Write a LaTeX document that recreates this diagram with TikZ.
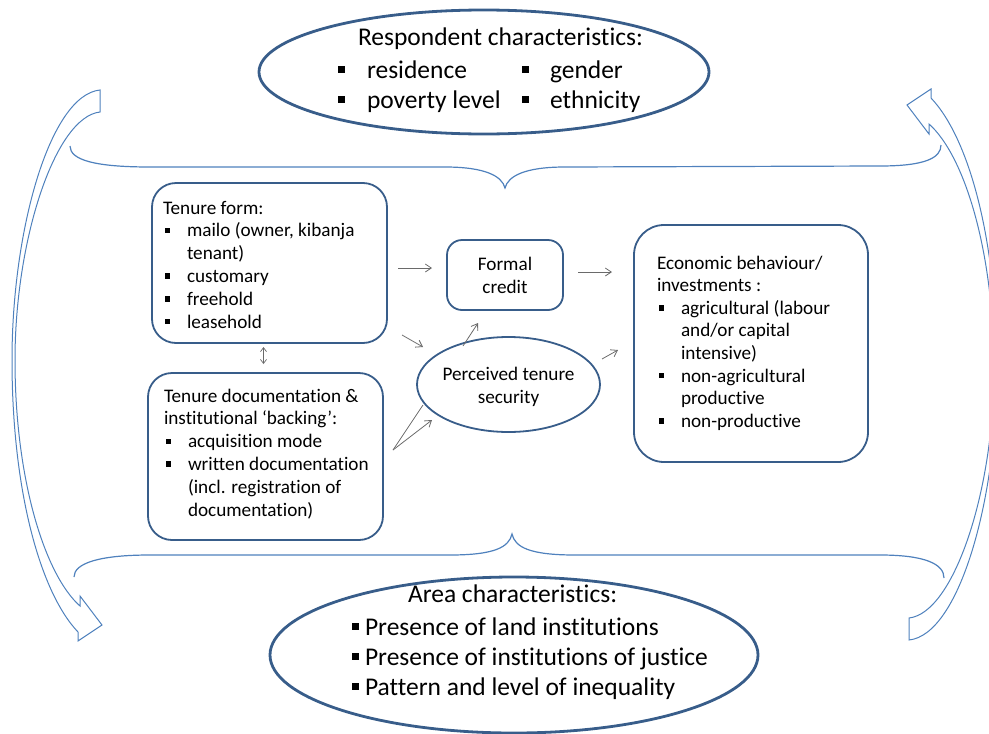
\documentclass[tikz,border=0pt]{standalone}
\usepackage{fontspec}
\setmainfont{Carlito}[Ligatures=NoCommon]
\usetikzlibrary{shapes.geometric,arrows.meta}
\definecolor{boxblue}{HTML}{385D8A}
\definecolor{lineblue}{HTML}{4F81BD}
\definecolor{arrgray}{HTML}{6A6A6A}
\newcommand\sqb{\raisebox{0.19em}{\rule{0.28em}{0.28em}}}
\newcommand\itm{\hspace*{2pt}\makebox[22pt][l]{\sqb}}
\newcommand\cnt{\hspace*{24pt}}
% #1 raise of first baseline above centre, #2 left offset, #3 width, #4 text
\newcommand\txt[4]{\raisebox{#1}[0pt][0pt]{\makebox[0pt][l]{\hspace*{#2}\begin{minipage}[t]{#3}#4\end{minipage}}}}
\newcommand\curvedarrowpath{(100,90) .. controls (50,95) and (12,230) .. (12,360) .. controls (12,490) and (40,592) .. (78,632) -- (78,641) -- (102,625) -- (80,596) -- (80,606) .. controls (45,575) and (15,480) .. (15,360) .. controls (15,240) and (55,117) .. (100,112) -- cycle}
\begin{document}
\begin{tikzpicture}[x=1pt,y=-1pt,
  boxst/.style={draw=boxblue, line width=1.8pt, inner sep=0pt},
  ovalst/.style={ellipse, draw=boxblue, inner sep=0pt},
  thinarr/.style={draw=arrgray, line width=0.8pt, -{Straight Barb[length=6pt,width=8pt]}},
  thinline/.style={draw=arrgray, line width=0.8pt},
  dblarr/.style={draw=arrgray, line width=0.7pt, {Straight Barb[length=4pt,width=6pt]}-{Straight Barb[length=4pt,width=6pt]}},
  deco/.style={draw=lineblue, line width=1pt}]
\useasboundingbox (0,0) rectangle (989,734);

% curved block arrows
\draw[deco] \curvedarrowpath;
\draw[deco, rotate around={180:(504.5,365)}] \curvedarrowpath;

% braces
\draw[deco, line width=1.2pt] (70,146) .. controls (70,160) and (95,167) .. (150,167) -- (445,167) .. controls (485,167) and (502,176) .. (505,188) .. controls (508,176) and (525,167) .. (565,167) -- (880,166) .. controls (925,166) and (941,158) .. (941,145);
\draw[deco, line width=1.2pt] (74,577) .. controls (74,563) and (100,555) .. (150,555) -- (450,555) .. controls (495,555) and (509,547) .. (512,534) .. controls (515,547) and (529,555) .. (575,555) -- (880,555) .. controls (925,555) and (944,564) .. (944,578);

% top ellipse
\node[ovalst, line width=2.8pt, minimum width=450pt, minimum height=124pt] (resp) at (484,72)
 {\txt{27pt}{-146pt}{340pt}{\fontsize{25.5}{30}\selectfont
  \hspace*{20pt}Respondent characteristics:\\[3pt]
  \makebox[29pt][l]{\sqb}\makebox[155pt][l]{residence}\makebox[28pt][l]{\sqb}gender\\
  \makebox[29pt][l]{\sqb}\makebox[155pt][l]{poverty level}\makebox[28pt][l]{\sqb}ethnicity}};

% bottom ellipse
\node[ovalst, line width=2.8pt, minimum width=488pt, minimum height=156pt] (area) at (514,655)
 {\txt{53pt}{-162pt}{390pt}{\fontsize{25.5}{30}\selectfont
  \hspace*{56pt}Area characteristics:\\[3pt]
  \makebox[13pt][l]{\sqb}Presence of land institutions\\
  \makebox[13pt][l]{\sqb}Presence of institutions of justice\\
  \makebox[13pt][l]{\sqb}Pattern and level of inequality}};

% tenure form box
\node[boxst, rounded corners=24pt, minimum width=235pt, minimum height=160pt] (form) at (269.5,263)
 {\txt{49pt}{-106.5pt}{225pt}{\raggedright\fontsize{19.2}{22.8}\selectfont
  Tenure form:\\
  \itm mailo (owner, kibanja\\
  \cnt tenant)\\
  \itm customary\\
  \itm freehold\\
  \itm leasehold}};

% tenure documentation box
\node[boxst, rounded corners=24pt, minimum width=235pt, minimum height=167pt] (doc) at (265.5,456.5)
 {\txt{54.5pt}{-101.5pt}{225pt}{\raggedright\fontsize{19.2}{22.8}\selectfont
  Tenure documentation \&\\
  institutional ‘backing’:\\
  \itm acquisition mode\\
  \itm written documentation\\
  \cnt (incl. registration of\\
  \cnt documentation)}};

% formal credit
\node[boxst, rounded corners=15pt, minimum width=116pt, minimum height=70pt] (credit) at (505,275)
 {\txt{5pt}{-58pt}{116pt}{\centering\fontsize{19.2}{23}\selectfont
  Formal\\credit}};

% perceived tenure security
\node[ovalst, line width=1.8pt, minimum width=183pt, minimum height=95pt] (secur) at (508.5,384.5)
 {\txt{4.5pt}{-91.5pt}{183pt}{\centering\fontsize{19.2}{23}\selectfont
  Perceived tenure\\security}};

% economic behaviour box
\node[boxst, rounded corners=30pt, minimum width=234pt, minimum height=237pt] (econ) at (751,343.5)
 {\txt{74.5pt}{-94pt}{205pt}{\raggedright\fontsize{19.2}{22.6}\selectfont
  Economic behaviour/\\
  investments :\\
  \itm agricultural (labour\\
  \cnt and/or capital\\
  \cnt intensive)\\
  \itm non-agricultural\\
  \cnt productive\\
  \itm non-productive}};

% connector end points
\coordinate (fa) at (398,268); \coordinate (ca) at (432,268);
\coordinate (cb) at (578,272); \coordinate (eb) at (612,272);
\coordinate (fc) at (402,335); \coordinate (sc) at (423,347);
\coordinate (sd) at (463,346); \coordinate (cd) at (478,323);
\coordinate (se) at (602,359); \coordinate (ee) at (618,350);
\coordinate (dg) at (393,450); \coordinate (sg) at (423,405); \coordinate (sh) at (432,420);
\coordinate (fm) at (263.5,347); \coordinate (dm) at (263.5,364);

\draw[thinarr] (fa) -- (ca);
\draw[thinarr] (cb) -- (eb);
\draw[thinarr] (fc) -- (sc);
\draw[thinarr] (sd) -- (cd);
\draw[thinarr] (se) -- (ee);
\draw[thinline] (dg) -- (sg);
\draw[thinarr] (dg) -- (sh);
\draw[dblarr] (fm) -- (dm);
\end{tikzpicture}
\end{document}
